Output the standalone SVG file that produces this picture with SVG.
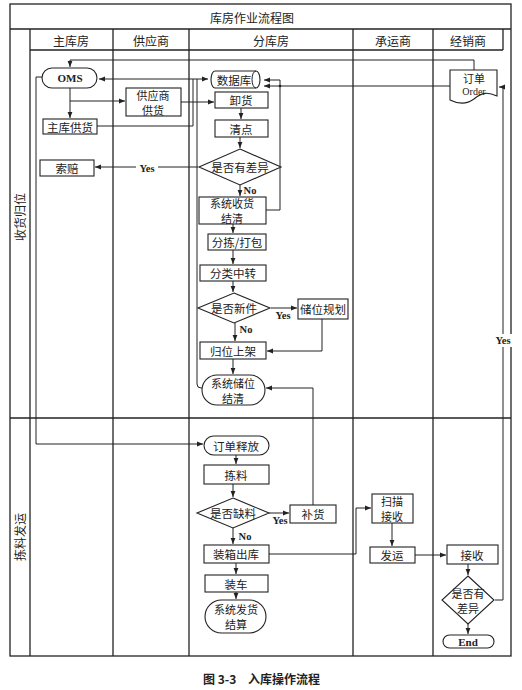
<svg xmlns="http://www.w3.org/2000/svg" width="522" height="690" viewBox="0 0 522 690">
<defs>
<marker id="ah" viewBox="0 0 10 10" refX="10" refY="5" markerWidth="6" markerHeight="6" orient="auto-start-reverse" markerUnits="userSpaceOnUse">
<path d="M0,1 L10,5 L0,9 Z" fill="#222"/>
</marker>
<style>
.frame{fill:none;stroke:#222;stroke-width:1.3}
.box{fill:#fff;stroke:#222;stroke-width:1.1}
.c{fill:none;stroke:#222;stroke-width:1;marker-end:url(#ah)}
.l{fill:none;stroke:#222;stroke-width:1}
.t{font-family:"Noto Sans CJK SC","Noto Sans CJK JP",sans-serif;font-size:11.5px;fill:#222;text-anchor:middle;dominant-baseline:central}
.t2{font-family:"Noto Sans CJK SC","Noto Sans CJK JP",sans-serif;font-size:11px;fill:#222;text-anchor:middle;dominant-baseline:central}
.h{font-family:"Noto Sans CJK SC",sans-serif;font-size:12px;fill:#222;text-anchor:middle;dominant-baseline:central}
.e{font-family:"Liberation Serif",serif;font-weight:bold;font-size:11px;fill:#222;text-anchor:middle;dominant-baseline:central}
.lab{font-family:"Liberation Serif",serif;font-weight:bold;font-size:10.5px;fill:#222;text-anchor:middle;dominant-baseline:central}
.cap{font-family:"Noto Sans CJK SC",sans-serif;font-weight:bold;font-size:12px;fill:#222;dominant-baseline:central}
</style>
</defs>
<rect width="522" height="690" fill="#fff"/>
<g id="frame">
<rect class="frame" x="10" y="4" width="501" height="652"/>
<line class="frame" x1="10" y1="29" x2="511" y2="29"/>
<line class="frame" x1="30" y1="50" x2="503" y2="50"/>
<line class="frame" x1="503" y1="29" x2="503" y2="50"/>
<line class="frame" x1="30" y1="29" x2="30" y2="656"/>
<line class="frame" x1="113" y1="29" x2="113" y2="656"/>
<line class="frame" x1="189" y1="29" x2="189" y2="656"/>
<line class="frame" x1="353" y1="29" x2="353" y2="656"/>
<line class="frame" x1="433" y1="29" x2="433" y2="656"/>
<line class="frame" x1="10" y1="418" x2="511" y2="418"/>
<text class="h" x="252" y="17">库房作业流程图</text>
<text class="h" x="71" y="40">主库房</text>
<text class="h" x="151" y="40">供应商</text>
<text class="h" x="271" y="40">分库房</text>
<text class="h" x="393" y="40">承运商</text>
<text class="h" x="468" y="40">经销商</text>
<text class="h" transform="translate(19,217) rotate(-90)">收货归位</text>
<text class="h" transform="translate(19,537) rotate(-90)">拣料发运</text>
</g>
<g id="connectors">
<path class="c" d="M474,70 V60 H70 V67"/>
<path class="l" d="M99,79 H208" marker-start="url(#ah)" marker-end="url(#ah)"/>
<path class="c" d="M70,88 V101 H125"/>
<path class="c" d="M70,101 V118"/>
<path class="c" d="M42,77 H36 V444 H203"/>
<path class="l" d="M97,126 H193 V79"/>
<path class="c" d="M181,102 H214"/>
<path class="l" d="M202,388 H201 Q197,388 197,384 V79"/>
<path class="c" d="M450,86 H264"/>
<path class="c" d="M266,210 H280 V80 H264"/>
<circle cx="280" cy="86" r="1.3" fill="#222"/>
<path class="c" d="M241,108 V119"/>
<path class="c" d="M240,137 V148"/>
<path class="c" d="M198,167 H95"/>
<rect x="136" y="161" width="22" height="13" fill="#fff"/>
<text class="lab" x="147" y="168">Yes</text>
<path class="c" d="M240,185 V196"/>
<text class="lab" x="250" y="190">No</text>
<path class="c" d="M233,224 V233"/>
<path class="c" d="M233,250 V264"/>
<path class="c" d="M233,281 V292"/>
<path class="c" d="M271,308 H297"/>
<text class="lab" x="283" y="315">Yes</text>
<path class="c" d="M235,323 V341"/>
<text class="lab" x="246" y="329">No</text>
<path class="c" d="M322,319 V351 H267"/>
<path class="c" d="M233,359 V374"/>
<path class="c" d="M313,505 V388 H266"/>
<path class="c" d="M236,455 V464"/>
<path class="c" d="M233,484 V497"/>
<path class="c" d="M269,513 H289"/>
<text class="lab" x="280" y="520">Yes</text>
<path class="c" d="M233,528 V544"/>
<text class="lab" x="245" y="536">No</text>
<path class="c" d="M269,554 H356 V508 H371"/>
<path class="c" d="M392,523 V546"/>
<path class="c" d="M415,555 H446"/>
<path class="c" d="M468,564 V575"/>
<path class="c" d="M468,624 V634"/>
<path class="c" d="M495,600 H503 V87 H499"/>
<rect x="494" y="334" width="18" height="13" fill="#fff"/>
<text class="lab" x="503" y="340">Yes</text>
<path class="c" d="M236,563 V574"/>
<path class="c" d="M236,592 V599"/>
</g>
<g id="oms"><rect class="box" x="42" y="68" width="55" height="20" rx="10"/><text class="e" x="70" y="78">OMS</text></g>
<g id="zkgh"><rect class="box" x="43" y="119" width="54" height="15"/><text class="t" x="70" y="126.5">主库供货</text></g>
<g id="gysgh"><rect class="box" x="126" y="88" width="55" height="28"/><text class="t2" x="153" y="94.5">供应商<tspan x="153" dy="15">供货</tspan></text></g>
<g id="suopei"><rect class="box" x="40" y="160" width="54" height="16"/><text class="t" x="67" y="168">索赔</text></g>
<g id="shujuku"><path class="box" d="M215,71 H256 A4,8.5 0 0 1 256,88 H215 A4,8.5 0 0 1 215,71 Z"/><path class="l" d="M256,71 A4,8.5 0 0 0 256,88"/><text class="t" x="234" y="79.5">数据库</text></g>
<g id="xiehuo"><rect class="box" x="215" y="92" width="53" height="16"/><text class="t" x="241" y="100">卸货</text></g>
<g id="qingdian"><rect class="box" x="215" y="120" width="53" height="17"/><text class="t" x="241" y="128.5">清点</text></g>
<g id="cy1"><path class="box" d="M240,149 L281,167 L240,185 L199,167 Z"/><text class="t" x="240" y="167">是否有差异</text></g>
<g id="xtshjq"><rect class="box" x="199" y="197" width="67" height="27"/><text class="t2" x="232" y="203">系统收货<tspan x="232" dy="15">结清</tspan></text></g>
<g id="fjdb"><rect class="box" x="208" y="234" width="58" height="16"/><text class="t" x="237" y="242">分拣/打包</text></g>
<g id="flzz"><rect class="box" x="200" y="265" width="66" height="16"/><text class="t" x="233" y="273">分类中转</text></g>
<g id="sfxj"><path class="box" d="M234,293 L270,308 L234,323 L198,308 Z"/><text class="t" x="234" y="308">是否新件</text></g>
<g id="cwgh"><rect class="box" x="298" y="299" width="50" height="20"/><text class="t" x="323" y="309">储位规划</text></g>
<g id="gwsj"><rect class="box" x="200" y="342" width="66" height="17"/><text class="t" x="233" y="350.5">归位上架</text></g>
<g id="xtcwjq"><rect class="box" x="202" y="375" width="63" height="30" rx="15"/><text class="t2" x="233" y="382.5">系统储位<tspan x="233" dy="15">结清</tspan></text></g>
<g id="ddsf"><rect class="box" x="204" y="436" width="65" height="19" rx="9.5"/><text class="t" x="236" y="445.5">订单释放</text></g>
<g id="jianliao"><rect class="box" x="204" y="465" width="65" height="19"/><text class="t" x="236" y="474.5">拣料</text></g>
<g id="sfql"><path class="box" d="M233,498 L269,513 L233,528 L197,513 Z"/><text class="t" x="233" y="513">是否缺料</text></g>
<g id="buhuo"><rect class="box" x="290" y="505" width="46" height="18"/><text class="t" x="313" y="514">补货</text></g>
<g id="zxck"><rect class="box" x="204" y="545" width="65" height="18"/><text class="t" x="236" y="554">装箱出库</text></g>
<g id="smjs"><rect class="box" x="372" y="494" width="41" height="29"/><text class="t2" x="392" y="501">扫描<tspan x="392" dy="15">接收</tspan></text></g>
<g id="fayun"><rect class="box" x="370" y="547" width="45" height="16"/><text class="t" x="392" y="555">发运</text></g>
<g id="jieshou"><rect class="box" x="447" y="545" width="51" height="19"/><text class="t" x="472" y="554.5">接收</text></g>
<g id="zhuangche"><rect class="box" x="205" y="575" width="63" height="17"/><text class="t" x="236" y="583.5">装车</text></g>
<g id="xtfhjs"><rect class="box" x="205" y="600" width="61" height="33" rx="16.5"/><text class="t2" x="236" y="609">系统发货<tspan x="236" dy="15">结算</tspan></text></g>
<g id="cy2"><path class="box" d="M468,576 L494,600 L468,624 L442,600 Z"/><text class="t2" x="468" y="593">是否有<tspan x="468" dy="15">差异</tspan></text></g>
<g id="end"><rect class="box" x="443" y="635" width="51" height="13" rx="6.5"/><text class="e" x="468" y="641.5">End</text></g>
<g id="order"><path class="box" d="M450,70 H497 V96 C488,92 482,92 474,99 C466,105 458,104 450,100 Z"/><text class="t2" x="474" y="78">订单</text><text class="e" x="474" y="91" style="font-weight:normal;font-size:10px">Order</text></g>
<text class="cap" x="203" y="678">图 3-3</text>
<text class="cap" x="248" y="678">入库操作流程</text>
</svg>
